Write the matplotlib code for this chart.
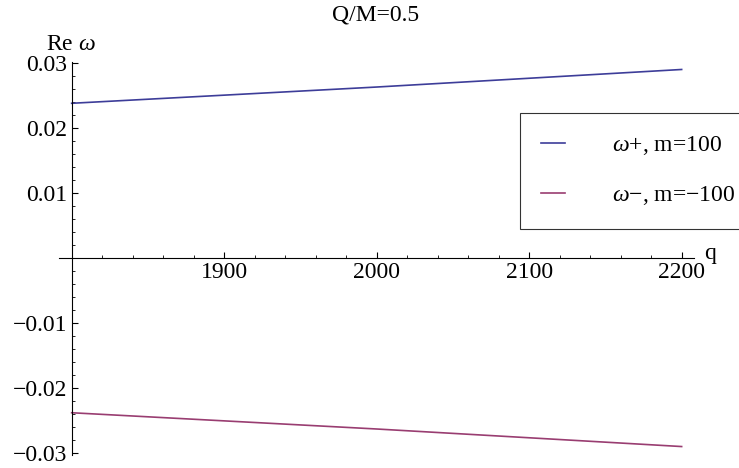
import matplotlib
matplotlib.use('Agg')
import matplotlib.pyplot as plt
import numpy as np
from matplotlib.ticker import MultipleLocator

q = [1800, 1900, 2000, 2100, 2200]
re_plus = [0.0238, 0.02505, 0.0263, 0.02765, 0.0290]
re_minus = [-0.0238, -0.02505, -0.0263, -0.02765, -0.0290]

x_ticks = [1900, 2000, 2100, 2200]
y_ticks = [-0.03, -0.02, -0.01, 0.01, 0.02, 0.03]
y_tick_labels = ['\u22120.03', '\u22120.02', '\u22120.01', '0.01', '0.02', '0.03']

plt.rcParams['font.family'] = ['Liberation Serif', 'DejaVu Serif']
plt.rcParams['mathtext.fontset'] = 'custom'
plt.rcParams['mathtext.rm'] = 'Liberation Serif'
plt.rcParams['mathtext.it'] = 'Liberation Serif:italic'

fig = plt.figure(figsize=(7.39, 4.68), dpi=100)
W, H = 739, 468
ax = fig.add_axes([59 / W, 1 - 455 / H, 635 / W, 393 / H])

blue = (0.24, 0.24, 0.6)
purple = (0.6, 0.24, 0.443)
ax.plot(q, re_plus, color=blue, lw=1.2, label='$\\omega$+, m=100')
ax.plot(q, re_minus, color=purple, lw=1.2, label='$\\omega$\u2212, m=\u2212100')

ax.set_xlim(1791.7, 2208.1)
ax.set_ylim(-0.0303, 0.03015)

for s in ['top', 'right']:
    ax.spines[s].set_visible(False)
ax.spines['left'].set_position(('data', 1800))
ax.spines['bottom'].set_position(('data', 0))
ax.spines['left'].set_linewidth(0.8)
ax.spines['bottom'].set_linewidth(0.8)

ax.set_xticks(x_ticks)
ax.set_yticks(y_ticks)
ax.set_yticklabels(y_tick_labels)
ax.xaxis.set_minor_locator(MultipleLocator(20))
ax.yaxis.set_minor_locator(MultipleLocator(0.002))
ax.tick_params(which='major', direction='in', length=4, width=0.8, labelsize=17, pad=3)
ax.tick_params(which='minor', direction='in', length=2.4, width=0.6)

fig.text(376 / W, 1 - 15 / H, 'Q/M=0.5', ha='center', va='center', fontsize=17)
fig.text(71 / W, 1 - 45 / H, 'Re $\\omega$', ha='center', va='center', fontsize=17)
fig.text(704 / W, 1 - 254 / H, 'q', ha='left', va='center', fontsize=17)

leg = ax.legend(loc='upper left', bbox_to_anchor=(520 / W, 1 - 113 / H),
                bbox_transform=fig.transFigure, fontsize=17, frameon=True,
                fancybox=False, borderaxespad=0, borderpad=0.9,
                handlelength=1.0, handletextpad=2.0, labelspacing=1.15)
leg.get_frame().set_edgecolor('black')
leg.get_frame().set_linewidth(0.8)

fig.savefig('out.png', dpi=100)
